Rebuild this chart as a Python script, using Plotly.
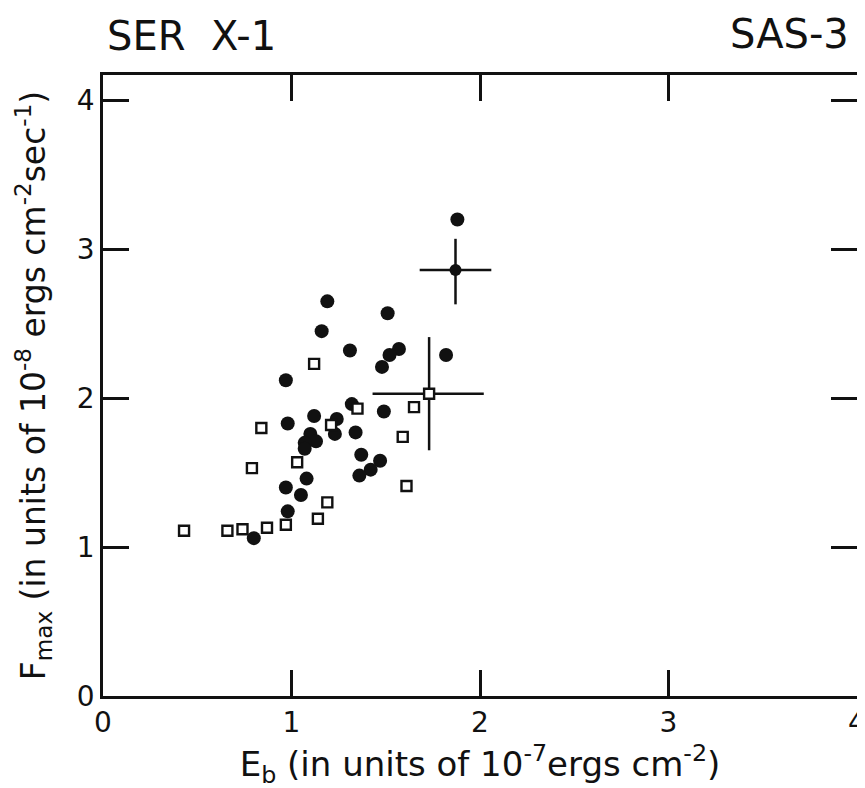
import plotly.graph_objects as go

# ---- data ----
x_ticks = [0, 1, 2, 3, 4]
y_ticks = [0, 1, 2, 3, 4]

filled_x = [1.88, 1.19, 1.51, 1.16, 1.31, 1.57, 1.52, 1.48, 1.82, 0.97,
            1.32, 1.49, 1.12, 1.24, 0.98, 1.23, 1.34, 1.10, 1.13, 1.07,
            1.07, 1.37, 1.47, 1.42, 1.36, 1.08, 0.97, 1.05, 0.98, 0.80]
filled_y = [3.20, 2.65, 2.57, 2.45, 2.32, 2.33, 2.29, 2.21, 2.29, 2.12,
            1.96, 1.91, 1.88, 1.86, 1.83, 1.76, 1.77, 1.76, 1.71, 1.70,
            1.66, 1.62, 1.58, 1.52, 1.48, 1.46, 1.40, 1.35, 1.24, 1.06]

open_x = [0.43, 0.66, 0.74, 0.87, 0.97, 1.14, 1.19, 0.79, 1.03, 0.84,
          1.21, 1.12, 1.35, 1.65, 1.59, 1.61]
open_y = [1.11, 1.11, 1.12, 1.13, 1.15, 1.19, 1.30, 1.53, 1.57, 1.80,
          1.82, 2.23, 1.93, 1.94, 1.74, 1.41]

# points with error bars
filled_err_x = [1.87]
filled_err_y = [2.86]
filled_err_xminus = [0.19]
filled_err_xplus = [0.19]
filled_err_yminus = [0.23]
filled_err_yplus = [0.21]

open_err_x = [1.73]
open_err_y = [2.03]
open_err_xminus = [0.30]
open_err_xplus = [0.29]
open_err_yminus = [0.38]
open_err_yplus = [0.38]

FONT = "DejaVu Sans"
INK = "#111111"

# page offset of the plot div (default body margin)
OFF = 8
L, R, T, B = 103 - OFF, 857 - OFF, 75 - OFF, 696 - OFF
PW, PH = R - L, B - T

fig = go.Figure()

fig.add_trace(go.Scatter(
    x=filled_x, y=filled_y, mode="markers",
    marker=dict(symbol="circle", size=14, color=INK, line=dict(width=0)),
    showlegend=False, hoverinfo="skip"))

fig.add_trace(go.Scatter(
    x=filled_err_x, y=filled_err_y, mode="markers",
    marker=dict(symbol="circle", size=12, color=INK, line=dict(width=0)),
    error_x=dict(type="data", symmetric=False, array=filled_err_xplus,
                 arrayminus=filled_err_xminus, width=0, thickness=2.5, color=INK),
    error_y=dict(type="data", symmetric=False, array=filled_err_yplus,
                 arrayminus=filled_err_yminus, width=0, thickness=2.5, color=INK),
    showlegend=False, hoverinfo="skip"))

fig.add_trace(go.Scatter(
    x=open_err_x, y=open_err_y, mode="markers",
    marker=dict(symbol="square", size=10, color="white", line=dict(width=2.4, color=INK)),
    error_x=dict(type="data", symmetric=False, array=open_err_xplus,
                 arrayminus=open_err_xminus, width=0, thickness=2.5, color=INK),
    error_y=dict(type="data", symmetric=False, array=open_err_yplus,
                 arrayminus=open_err_yminus, width=0, thickness=2.5, color=INK),
    showlegend=False, hoverinfo="skip"))

fig.add_trace(go.Scatter(
    x=open_x, y=open_y, mode="markers",
    marker=dict(symbol="square", size=10, color="white", line=dict(width=2.4, color=INK)),
    showlegend=False, hoverinfo="skip"))

axis_common = dict(
    showgrid=False, zeroline=False, showline=True, linewidth=2.5, linecolor=INK,
    mirror="allticks", ticks="inside", ticklen=26, tickwidth=2.5, tickcolor=INK,
    tickfont=dict(family=FONT, size=28, color=INK), automargin=False,
)

fig.update_xaxes(
    range=[0, 4], tickvals=x_ticks, ticktext=[str(v) for v in x_ticks],
    title=dict(text="E<sub>b</sub> (in units of 10<sup>-7</sup>ergs cm<sup>-2</sup>)",
               font=dict(family=FONT, size=34, color=INK), standoff=0),
    **axis_common)
fig.update_yaxes(
    range=[0, 4.17], tickvals=y_ticks, ticktext=[str(v) for v in y_ticks],
    title=dict(text="F<sub>max</sub> (in units of 10<sup>-8</sup> ergs cm<sup>-2</sup>sec<sup>-1</sup>)",
               font=dict(family=FONT, size=33, color=INK), standoff=22),
    **axis_common)

fig.add_annotation(text="SER  X-1", xref="paper", yref="paper",
                   x=(105 - OFF - L) / PW, y=1 + (T - (36 - OFF)) / PH,
                   xanchor="left", yanchor="middle", showarrow=False,
                   font=dict(family=FONT, size=40, color=INK))
fig.add_annotation(text="SAS-3", xref="paper", yref="paper",
                   x=(851 - OFF - L) / PW, y=1 + (T - (34 - OFF)) / PH,
                   xanchor="right", yanchor="middle", showarrow=False,
                   font=dict(family=FONT, size=40, color=INK))

fig.update_layout(
    width=865, height=788,
    margin=dict(l=L, r=865 - R, t=T, b=788 - B, autoexpand=False),
    paper_bgcolor="white", plot_bgcolor="white",
    font=dict(family=FONT, color=INK),
)

fig.write_html("out.html")
